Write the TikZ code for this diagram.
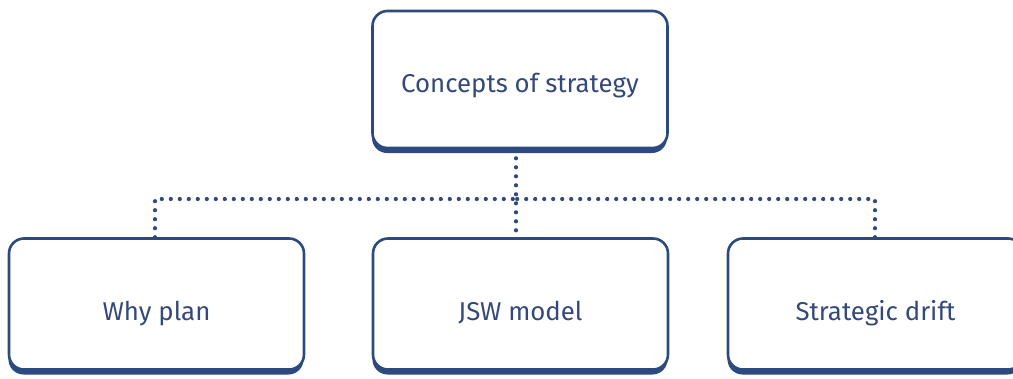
\documentclass[tikz,border=0pt]{standalone}
\usepackage{fontspec}
\setmainfont{Fira Sans}
\usetikzlibrary{shadows}
\definecolor{navy}{HTML}{2C4A7E}
\definecolor{inktext}{HTML}{34497A}
\begin{document}
\begin{tikzpicture}[x=1pt,y=-1pt,
  box/.style={draw=navy, line width=2.6pt, fill=white, rounded corners=15pt,
    minimum width=295pt, inner sep=0pt,
    text=inktext, font=\fontsize{25.8}{30}\selectfont,
    general shadow={fill=navy, shadow yshift=-5pt, shadow xshift=-0.5pt}},
  topbox/.style={box, minimum height=137pt, text height=30pt, text depth=5pt},
  lowbox/.style={box, minimum height=131pt, text height=35pt, text depth=3pt},
  dotline/.style={draw=navy, line width=4.2pt, line cap=round,
    dash pattern=on 0pt off 9pt}]
  \useasboundingbox (0,0) rectangle (1013,378);
  % boxes
  \node[topbox] (top)   at (520,79.5)  {Concepts of strategy};
  \node[lowbox] (why)   at (156.5,304) {Why plan};
  \node[lowbox] (jsw)   at (520.5,304) {JSW model};
  \node[lowbox] (drift) at (875.5,304) {Strategic drift};
  % dotted bus between the levels
  \coordinate (hub) at (516,199);
  \draw[dotline] ([xshift=-4pt]top.south) -- ([xshift=-4.5pt]jsw.north);
  \draw[dotline] ([xshift=-1.5pt]why.north) |- (hub);
  \draw[dotline] ([xshift=-0.5pt]drift.north) |- (hub);
\end{tikzpicture}
\end{document}
